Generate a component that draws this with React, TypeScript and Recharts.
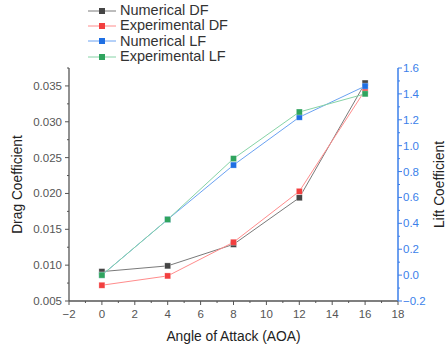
import { LineChart, Line, XAxis, YAxis, Legend, Label } from "recharts";

// angle of attack (deg)
const AOA = [0, 4, 8, 12, 16];
const NUMERICAL_DF = [0.0091, 0.0099, 0.0129, 0.0194, 0.0354];
const EXPERIMENTAL_DF = [0.0072, 0.0085, 0.0132, 0.0203, 0.0344];
const NUMERICAL_LF = [0.0, 0.43, 0.85, 1.22, 1.46];
const EXPERIMENTAL_LF = [0.0, 0.43, 0.9, 1.26, 1.4];

const X_MAJOR = [-2, 0, 2, 4, 6, 8, 10, 12, 14, 16, 18];
const X_MINOR = [-1, 1, 3, 5, 7, 9, 11, 13, 15, 17];
const DRAG_MAJOR = [0.005, 0.01, 0.015, 0.02, 0.025, 0.03, 0.035];
const DRAG_MINOR = [0.0075, 0.0125, 0.0175, 0.0225, 0.0275, 0.0325, 0.0375];
const LIFT_MAJOR = [-0.2, 0, 0.2, 0.4, 0.6, 0.8, 1.0, 1.2, 1.4, 1.6];
const LIFT_MINOR = [-0.1, 0.1, 0.3, 0.5, 0.7, 0.9, 1.1, 1.3, 1.5];

const SERIES = [
  { key: "numDF", name: "Numerical DF", axis: "drag", values: NUMERICAL_DF, marker: "#454545", line: "#7a7a7a" },
  { key: "expDF", name: "Experimental DF", axis: "drag", values: EXPERIMENTAL_DF, marker: "#f23f3f", line: "#ff8c8c" },
  { key: "numLF", name: "Numerical LF", axis: "lift", values: NUMERICAL_LF, marker: "#1f6fe3", line: "#6aa2f2" },
  { key: "expLF", name: "Experimental LF", axis: "lift", values: EXPERIMENTAL_LF, marker: "#2fa45e", line: "#86d3a6" },
];

const data = AOA.map((aoa, i) => {
  const row: Record<string, number> = { aoa };
  SERIES.forEach((s) => (row[s.key] = s.values[i]));
  return row;
});

const FONT = "'Liberation Sans', Arial, sans-serif";
const AXIS_GREY = "#555";
const LIFT_BLUE = "#3b7fea";

const isMajor = (list: number[], v: number) => list.some((m) => Math.abs(m - v) < 1e-9);
const fmt = (v: number, digits: number) => {
  const s = Math.abs(v).toFixed(digits);
  return v < -1e-9 ? "\u2212" + s : s;
};

const XTick = ({ x, y, payload }: any) => {
  const major = isMajor(X_MAJOR, payload.value);
  return (
    <g>
      <line x1={x} y1={y} x2={x} y2={y + (major ? 4 : 2)} stroke={AXIS_GREY} />
      {major && (
        <text x={x} y={y + 13} textAnchor="middle" dominantBaseline="central" fontSize={11.5} fill={AXIS_GREY} fontFamily={FONT}>
          {fmt(payload.value, 0)}
        </text>
      )}
    </g>
  );
};

const DragTick = ({ x, y, payload }: any) => {
  const major = isMajor(DRAG_MAJOR, payload.value);
  return (
    <g>
      <line x1={x} y1={y} x2={x - (major ? 4 : 2)} y2={y} stroke={AXIS_GREY} />
      {major && (
        <text x={x - 7} y={y} textAnchor="end" dominantBaseline="central" fontSize={11.5} fill={AXIS_GREY} fontFamily={FONT}>
          {payload.value.toFixed(3)}
        </text>
      )}
    </g>
  );
};

const LiftTick = ({ x, y, payload }: any) => {
  const major = isMajor(LIFT_MAJOR, payload.value);
  return (
    <g>
      <line x1={x} y1={y} x2={x + (major ? 4 : 2)} y2={y} stroke={LIFT_BLUE} />
      {major && (
        <text x={x + 5} y={y} textAnchor="start" dominantBaseline="central" fontSize={11.5} fill={LIFT_BLUE} fontFamily={FONT}>
          {fmt(payload.value, 1)}
        </text>
      )}
    </g>
  );
};

const yTitle = (text: string, side: "left" | "right") => (props: any) => {
  const { x, y, width, height } = props.viewBox;
  const cx = side === "left" ? x + 17 : x + width - 6;
  const cy = y + height / 2;
  return (
    <text
      x={cx}
      y={cy}
      transform={`rotate(-90 ${cx} ${cy})`}
      textAnchor="middle"
      dominantBaseline="central"
      fontSize={13.8}
      fill="#222"
      fontFamily={FONT}
    >
      {text}
    </text>
  );
};

const xTitle = (props: any) => {
  const { x, y, width } = props.viewBox;
  return (
    <text x={x + width / 2} y={y + 35} textAnchor="middle" dominantBaseline="central" fontSize={13.8} fill="#222" fontFamily={FONT}>
      Angle of Attack (AOA)
    </text>
  );
};

const squareDot = (color: string) => (props: any) => {
  const { cx, cy, index } = props;
  if (cx == null || cy == null) return <g key={index} />;
  return <rect key={index} x={cx - 3} y={cy - 3} width={6} height={6} fill={color} stroke="#fff" strokeOpacity={0.5} strokeWidth={0.6} />;
};

const LegendBox = () => (
  <div style={{ fontFamily: FONT, fontSize: 14.5, color: "#333", lineHeight: "15.4px" }}>
    {SERIES.map((s) => (
      <div key={s.key} style={{ display: "flex", alignItems: "center", height: 15.4 }}>
        <svg width={30} height={10} style={{ marginRight: 2 }}>
          <line x1={0} y1={5} x2={28} y2={5} stroke={s.line} strokeWidth={1} />
          <rect x={11} y={2} width={6} height={6} fill={s.marker} />
        </svg>
        <span>{s.name}</span>
      </div>
    ))}
  </div>
);

export default function App() {
  return (
    <div style={{ position: "absolute", left: 0, top: 0, width: 445, height: 352, background: "#fff" }}>
      <LineChart width={445} height={352} data={data} margin={{ top: 68, right: 0, bottom: 0, left: 0 }}>
        <XAxis
          dataKey="aoa"
          type="number"
          domain={[-2, 18]}
          ticks={[...X_MAJOR, ...X_MINOR].sort((a, b) => a - b)}
          interval={0}
          height={51}
          tickSize={0}
          tickMargin={0}
          tickLine={false}
          tick={<XTick />}
          axisLine={{ stroke: AXIS_GREY, strokeWidth: 1.3 }}
        >
          <Label content={xTitle} />
        </XAxis>
        <YAxis
          yAxisId="drag"
          orientation="left"
          type="number"
          domain={[0.005, 0.0375]}
          ticks={[...DRAG_MAJOR, ...DRAG_MINOR].sort((a, b) => a - b)}
          interval={0}
          width={69}
          tickSize={0}
          tickMargin={0}
          tickLine={false}
          tick={<DragTick />}
          axisLine={{ stroke: AXIS_GREY, strokeWidth: 1.3 }}
        >
          <Label content={yTitle("Drag Coefficient", "left")} />
        </YAxis>
        <YAxis
          yAxisId="lift"
          orientation="right"
          type="number"
          domain={[-0.2, 1.6]}
          ticks={[...LIFT_MAJOR, ...LIFT_MINOR].sort((a, b) => a - b)}
          interval={0}
          width={47}
          tickSize={0}
          tickMargin={0}
          tickLine={false}
          tick={<LiftTick />}
          axisLine={{ stroke: LIFT_BLUE, strokeWidth: 1.5 }}
        >
          <Label content={yTitle("Lift Coefficient", "right")} />
        </YAxis>
        <Legend
          layout="horizontal"
          align="center"
          verticalAlign="middle"
          wrapperStyle={{ left: 88, top: 3, width: 220 }}
          content={<LegendBox />}
        />
        {SERIES.map((s) => (
          <Line
            key={s.key}
            yAxisId={s.axis}
            dataKey={s.key}
            name={s.name}
            stroke={s.line}
            strokeWidth={1}
            dot={squareDot(s.marker)}
            activeDot={false}
            isAnimationActive={false}
          />
        ))}
      </LineChart>
    </div>
  );
}
